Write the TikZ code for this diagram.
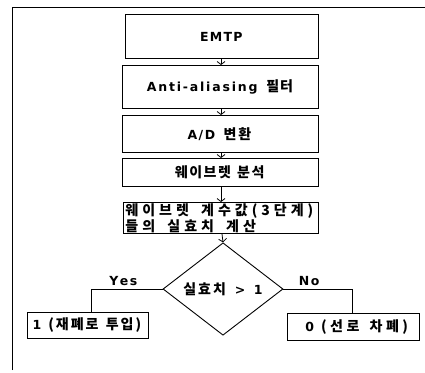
\documentclass[tikz,border=0pt]{standalone}
\usepackage{fontspec}
\setmainfont{DejaVu Sans}[BoldFont={* Bold}]
\newfontfamily\krfont{Noto Sans CJK KR Bold}
\newcommand\kr[1]{{\krfont\fontsize{14}{12.5}\selectfont #1}}
\newcommand\wsp{\hspace{7pt}}
\makeatletter
\newcommand\ls[2]{\def\ls@gap{#1}\ls@loop#2\ls@end}
\def\ls@end{\ls@end}
\def\ls@loop#1{\ifx#1\ls@end\else#1\kern\ls@gap\expandafter\ls@loop\fi}
\makeatother
\usetikzlibrary{arrows.meta,shapes.geometric}
\begin{document}
\begin{tikzpicture}[x=1pt,y=-1pt,
  txt/.style={font=\bfseries\fontsize{12.5}{12.5}\selectfont},
  box/.style={draw,line width=0.9pt,inner sep=0pt,anchor=north west,align=center,txt},
  conn/.style={line width=0.8pt,-{Straight Barb[length=3pt,width=8pt]}},
  lab/.style={txt},
  line/.style={line width=0.8pt}]
\useasboundingbox (0,0) rectangle (425,372);
\coordinate (fa) at (12,370);
\coordinate (fb) at (12,7);
\coordinate (fc) at (425,7);
\draw[line width=0.9pt] (fa) -- (fb) -- (fc);
\node[box,minimum width=193pt,minimum height=44pt] (b1) at (125,14) {\ls{1.2pt}{EMTP}};
\node[box,minimum width=196pt,minimum height=43pt] (b2) at (122,65) {\ls{1.8pt}{Anti-aliasing}\wsp\kr{\ls{1pt}{필터}}};
\node[box,minimum width=196pt,minimum height=37pt] (b3) at (122,115) {\ls{1.5pt}{A/D}\wsp\kr{\ls{2pt}{변환}}};
\node[box,minimum width=196pt,minimum height=28pt] (b4) at (122,158) {\kr{\ls{1.5pt}{웨이브렛~분석}}};
\node[box,minimum width=195pt,minimum height=31pt,align=left,text width=193pt] (b5) at (123,202) {\hspace*{1pt}\kr{\ls{4pt}{웨이브렛~계수값(3단계)}}\\\hspace*{1pt}\kr{\ls{4pt}{들의~실효치~계산}}};
\node[draw,line width=0.9pt,diamond,minimum width=120pt,minimum height=75pt,inner sep=0pt,lab] (d) at (223,289) {\kr{\ls{2pt}{실효치}}\wsp\ls{1.5pt}{>}\wsp 1};
\node[box,minimum width=121pt,minimum height=26pt] (l) at (27,312) {1\wsp\kr{\ls{2pt}{(재폐로~투입)}}};
\node[box,minimum width=132pt,minimum height=27pt] (r) at (287,313) {\hspace*{10pt}0\wsp\kr{\ls{3.5pt}{(선로~차폐)}}};
\draw[conn] (b1.south -| 221,0) -- (b2.north -| 221,0);
\draw[conn] (b2.south -| 221,0) -- (b3.north -| 221,0);
\draw[conn] (b3.south -| 221,0) -- (b4.north -| 221,0);
\draw[conn] (b4.south -| 221,0) -- (b5.north -| 221,0);
\draw[conn] (b5.south -| 222,0) -- (d.north);
\draw[line] (d.west) -| (l.north -| 91,0);
\draw[line] (d.east) -| (r.north -| 352,0);
\node[lab] (yes) at (124,281) {\ls{1.5pt}{Yes}};
\node[lab] (no) at (310,281) {\ls{1.5pt}{No}};
\end{tikzpicture}
\end{document}
